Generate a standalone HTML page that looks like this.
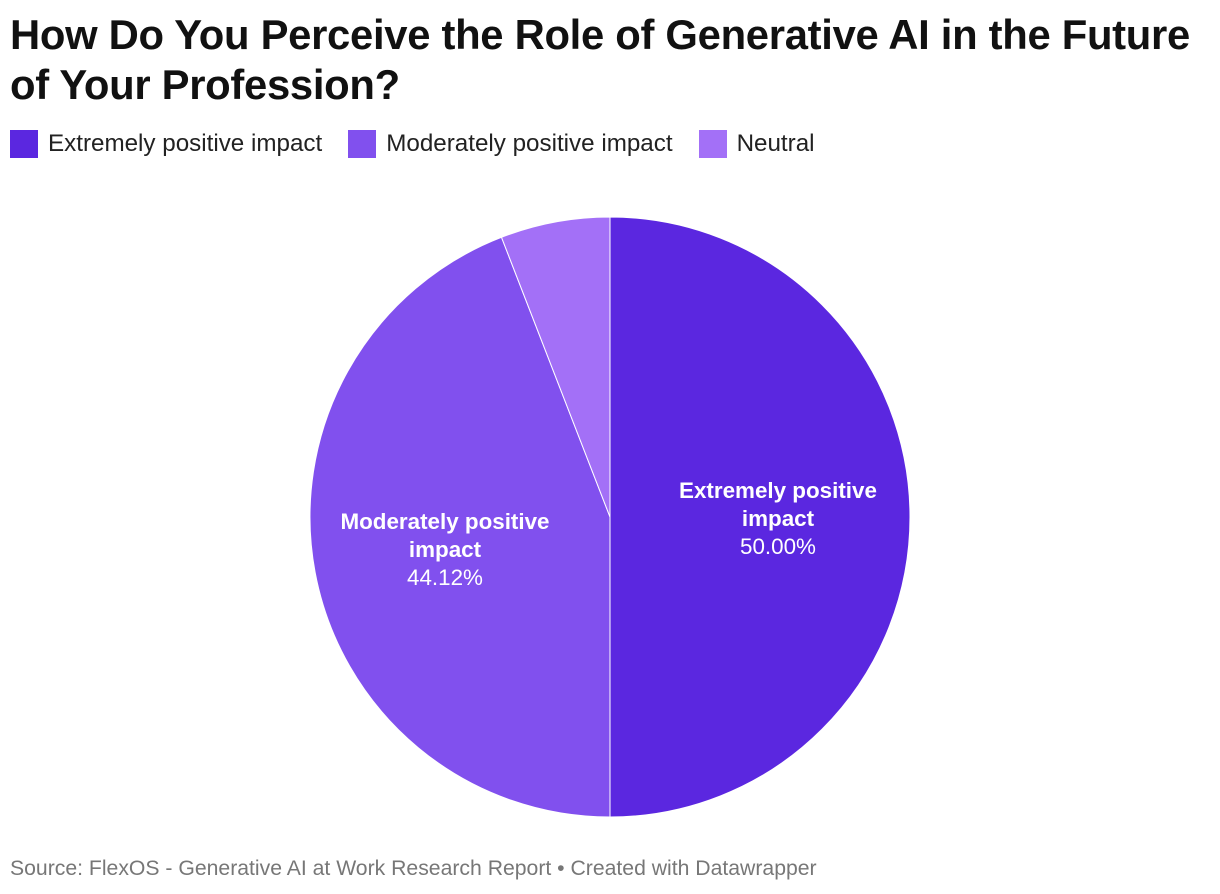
<!DOCTYPE html>
<html><head><meta charset="utf-8"><style>
body{margin:0;width:1220px;height:894px;background:#fff;font-family:"Liberation Sans",sans-serif;position:relative;overflow:hidden}
h1{position:absolute;left:10px;top:10px;margin:0;font-size:41.8px;line-height:50px;font-weight:bold;color:#111;letter-spacing:-0.3px}
.leg{position:absolute;top:130px;left:10px;display:flex;align-items:center;font-size:24.2px;color:#222}
.sw{width:28px;height:28px;margin-right:10px}
.it{display:flex;align-items:center;margin-right:26px}
.src{position:absolute;left:10px;top:857px;font-size:21.2px;color:#777}
</style></head><body>
<h1>How Do You Perceive the Role of Generative AI in the Future<br>of Your Profession?</h1>
<div class="leg">
<div class="it"><div class="sw" style="background:#5b27e0"></div>Extremely positive impact</div>
<div class="it"><div class="sw" style="background:#8150ee"></div>Moderately positive impact</div>
<div class="it"><div class="sw" style="background:#a370f7"></div>Neutral</div>
</div>
<svg width="1220" height="894" style="position:absolute;left:0;top:0">
<path d="M610,517 L610,217 A300,300 0 0 1 610,817 Z" fill="#5b27e0" stroke="#fff" stroke-width="1"/>
<path d="M610,517 L610,817 A300,300 0 0 1 501.5,237.3 Z" fill="#8150ee" stroke="#fff" stroke-width="1"/>
<path d="M610,517 L501.5,237.3 A300,300 0 0 1 610,217 Z" fill="#a370f7" stroke="#fff" stroke-width="1"/>
<g font-family="Liberation Sans, sans-serif" font-size="22.4" fill="#fff" text-anchor="middle">
<text x="778" y="498" font-weight="bold">Extremely positive</text>
<text x="778" y="526" font-weight="bold">impact</text>
<text x="778" y="554">50.00%</text>
<text x="445" y="529" font-weight="bold">Moderately positive</text>
<text x="445" y="557" font-weight="bold">impact</text>
<text x="445" y="585">44.12%</text>
</g>
</svg>
<div class="src">Source: FlexOS - Generative AI at Work Research Report • Created with Datawrapper</div>
</body></html>
